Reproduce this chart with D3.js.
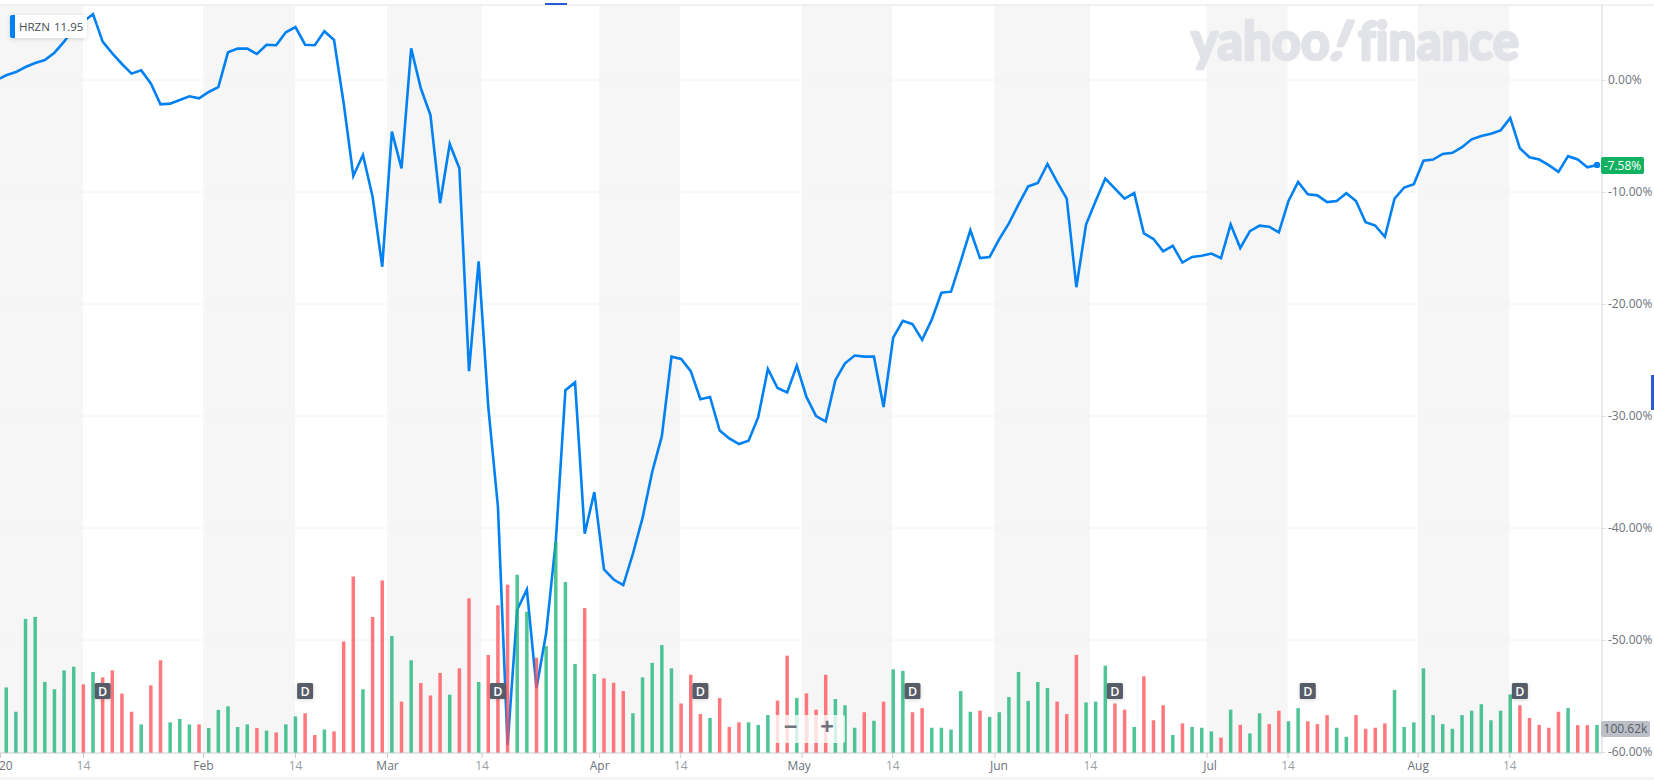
<!DOCTYPE html>
<html><head><meta charset="utf-8">
<style>
html,body{margin:0;padding:0;background:#fff;overflow:hidden}
svg{display:block}
text{font-family:"Open Sans",sans-serif;font-variant-ligatures:none}
</style>
<script src="https://cdn.jsdelivr.net/npm/d3@7"></script>
</head><body><div id="chart"></div>
<script>
// Percent change per trading session (session 0 sits just left of the plot edge)
const percentChange = [0.0,0.42,0.71,1.16,1.52,1.79,2.44,3.42,4.61,5.21,5.89,3.42,2.38,1.43,0.57,0.86,-0.30,-2.17,-2.11,-1.79,-1.46,-1.64,-1.07,-0.63,2.47,2.80,2.80,2.32,3.15,3.10,4.26,4.73,3.15,3.10,4.35,3.57,-2.08,-8.57,-6.70,-10.42,-16.67,-4.61,-7.89,2.83,-0.74,-3.13,-11.0,-5.71,-7.89,-26.0,-16.2,-29.2,-38.1,-59.4,-47.3,-45.5,-54.3,-49.4,-41.2,-27.7,-27.0,-40.5,-36.8,-43.7,-44.6,-45.1,-42.3,-39.1,-35.0,-31.8,-24.7,-24.9,-26.0,-28.5,-28.3,-31.3,-32.0,-32.5,-32.2,-30.1,-25.8,-27.5,-27.9,-25.5,-28.3,-30.0,-30.5,-26.8,-25.3,-24.6,-24.7,-24.7,-29.2,-23.0,-21.5,-21.8,-23.2,-21.4,-19.0,-18.9,-16.2,-13.4,-15.9,-15.8,-14.2,-12.8,-11.1,-9.5,-9.2,-7.5,-9.1,-10.6,-18.5,-12.9,-10.8,-8.8,-9.7,-10.6,-10.1,-13.7,-14.2,-15.3,-14.8,-16.3,-15.8,-15.7,-15.5,-15.9,-12.9,-15.0,-13.5,-13.0,-13.1,-13.6,-10.8,-9.1,-10.2,-10.3,-10.9,-10.8,-10.1,-10.8,-12.7,-13.0,-14.0,-10.6,-9.6,-9.3,-7.2,-7.1,-6.6,-6.5,-6.0,-5.3,-5.0,-4.8,-4.5,-3.4,-6.1,-6.9,-7.1,-7.6,-8.2,-6.8,-7.1,-7.8,-7.58];
// Volume in thousands for sessions 1..166
const volumeK = [246,152,511,519,267,239,312,326,258,306,285,312,222,152,103,254,351,111,124,103,103,89,159,173,93,103,89,79,72,103,134,146,62,83,76,424,675,239,519,660,445,191,351,263,215,302,218,320,591,267,372,564,644,682,539,361,406,808,654,337,553,298,281,264,232,146,285,341,410,320,184,295,143,128,205,93,111,111,101,139,195,369,205,223,160,295,201,177,90,150,117,191,316,310,150,166,90,90,83,232,152,156,132,150,209,306,194,267,244,191,143,372,188,191,330,184,160,93,289,119,177,62,107,93,90,76,52,160,101,68,146,104,156,115,166,115,104,139,90,55,139,86,90,107,236,93,111,320,139,104,86,139,156,181,119,156,219,177,128,101,90,152,166,100,100,100.62];
const volumeDirection = "GGGGGGGG R G RRRR G RR GGG R GGGGG R G R GG RR G RRR G RR G R G RRR G RR G RRR GG R GGGG R G RRR GGGGG RRR G RRR GGG RR G RRR GGG R G R GG RR GGGGG R GGGGGGG RRR GGG RR G RRR G R GGG R G R GG RR GG RRR GG RRRR GGGGGGGGGGGGG RRRRR G RR G".replace(/ /g,"").split("");
// Sessions carrying a dividend marker
const dividendSessions = [11,32,52,73,95,116,136,158];
// Time axis
const xTickLabels = ["20","14","Feb","14","Mar","14","Apr","14","May","14","Jun","14","Jul","14","Aug","14"];
const xTickSessions = [0.35,8.96,21.4,30.95,40.5,50.3,62.5,70.9,83.5,92.9,103.5,113.4,125.5,133.9,147.4,156.9];
// Value axis
const yTicks = [0,-10,-20,-30,-40,-50,-60];
const ticker = "HRZN", lastPrice = "11.95", lastChange = "-7.58%", lastVolume = "100.62k";

const W=1654,H=780,plotRight=1602,plotTop=5,plotBottom=753;
const x=d3.scaleLinear().domain([0,166]).range([-3.4,1597]);
const y=d3.scaleLinear().domain([0,-60]).range([80,752]);
const v=d3.scaleLinear().domain([0,1000]).range([751,492.6]);
const GREEN="#1db47a",RED="#ff5258";

const svg=d3.select("#chart").append("svg").attr("width",W).attr("height",H);
svg.append("rect").attr("x",0).attr("y",777).attr("width",W).attr("height",3).attr("fill","#f6f6f6");
svg.append("defs").append("clipPath").attr("id","plot").append("rect").attr("x",0).attr("y",plotTop).attr("width",plotRight).attr("height",plotBottom-plotTop);
const f=svg.append("defs").append("filter").attr("id","sh").attr("x","-20%").attr("y","-30%").attr("width","140%").attr("height","170%");
f.append("feDropShadow").attr("dx",0).attr("dy",1).attr("stdDeviation",2).attr("flood-color","#000").attr("flood-opacity",.15);

// alternating shading: month start to the 14th
const bandPairs=d3.pairs(xTickSessions).filter((p,i)=>i%2===0);
svg.append("g").selectAll("rect").data(bandPairs).join("rect")
 .attr("x",d=>x(d[0])).attr("y",plotTop).attr("width",d=>x(d[1])-x(d[0])).attr("height",plotBottom-plotTop).attr("fill","#f6f6f6");

// logo
const logo=svg.append("g").attr("fill","#e1e3e8").attr("stroke","#e1e3e8").attr("stroke-width",2.4).attr("stroke-linejoin","round").style("font-weight",900).style("font-size","54px");
logo.append("text").attr("x",1191).attr("y",60).attr("textLength",139).attr("lengthAdjust","spacingAndGlyphs").style("font-family","Lato").text("yahoo");
logo.append("text").attr("transform","translate(1327,60) skewX(-22)").style("font-family","Lato").text("!");
logo.append("text").attr("x",1358).attr("y",60).attr("textLength",161).attr("lengthAdjust","spacingAndGlyphs").style("font-family","Lato").text("finance");

// grid
svg.append("g").selectAll("line").data(yTicks.slice(0,-1)).join("line")
 .attr("x1",2).attr("x2",plotRight).attr("y1",d=>y(d)).attr("y2",d=>y(d)).attr("stroke","#f1f2f3").attr("stroke-width",1);

// frame
svg.append("line").attr("x1",0).attr("x2",W).attr("y1",plotTop).attr("y2",plotTop).attr("stroke","#e0e4e9");
svg.append("line").attr("x1",plotRight).attr("x2",plotRight).attr("y1",plotTop).attr("y2",plotBottom).attr("stroke","#e0e4e9").attr("stroke-width",1.5);

// price line
const chart=svg.append("g").attr("clip-path","url(#plot)");
chart.append("path").datum(percentChange).attr("fill","none").attr("stroke","#0081f2").attr("stroke-width",2.6).attr("stroke-linejoin","miter")
 .attr("d",d3.line().x((d,i)=>x(i)).y(d=>y(d)));

// volume bars (over the line, translucent)
svg.append("g").selectAll("rect").data(volumeK).join("rect")
 .attr("x",(d,i)=>x(i+1)-1.75).attr("width",3.5).attr("y",d=>v(d)).attr("height",d=>plotBottom-v(d))
 .attr("fill",(d,i)=>volumeDirection[i]==="G"?GREEN:RED).attr("fill-opacity",.78);

svg.append("circle").attr("cx",x(166)).attr("cy",y(percentChange[166])).attr("r",3.2).attr("fill","#0081f2");

// axes
const yAxis=d3.axisRight(y).tickValues(yTicks).tickFormat(d=>d.toFixed(2)+"%").tickSize(4).tickPadding(2);
const ya=svg.append("g").attr("transform",`translate(${plotRight},0)`).call(yAxis);
ya.select(".domain").remove();
ya.selectAll("line").attr("stroke","#dde0e4");
ya.selectAll("text").attr("fill","#6c727a").style("font-size","12px").style("font-family","Open Sans");

const xAxis=d3.axisBottom(x).tickValues(xTickSessions).tickFormat((d,i)=>xTickLabels[i]).tickSize(5).tickPadding(3);
const xa=svg.append("g").attr("transform",`translate(0,${plotBottom})`).call(xAxis);
xa.select(".domain").remove();
xa.selectAll("line").attr("stroke","#c9cdd2");
const labelNudge={May:-3,Jun:4,Jul:3,"20":-1.5};
xa.selectAll("text").attr("fill",(d,i)=>xTickLabels[i]==="14"?"#9a9fa6":"#6c727a").style("font-size","12px").style("font-family","Open Sans")
 .attr("text-anchor",(d,i)=>i===0?"start":"middle").attr("dx",(d,i)=>labelNudge[xTickLabels[i]]||0);
svg.append("line").attr("x1",0).attr("x2",plotRight).attr("y1",plotBottom).attr("y2",plotBottom).attr("stroke","#c9cdd2").attr("stroke-width",1);

// dividend badges
const dg=svg.append("g").selectAll("g").data(dividendSessions).join("g").attr("transform",d=>`translate(${x(d)},691)`);
dg.append("rect").attr("x",-8).attr("y",-8).attr("width",16).attr("height",16).attr("rx",1.5).attr("fill","#565c67").attr("filter","url(#sh)");
dg.append("text").attr("text-anchor","middle").attr("y",4.6).attr("fill","#fff").style("font-size","12.5px").style("font-weight",600).text("D");

// ticker tag
const tag=svg.append("g");
tag.append("rect").attr("x",10).attr("y",15).attr("width",77).attr("height",23).attr("rx",2).attr("fill","#fff").attr("filter","url(#sh)");
tag.append("path").attr("d","M15 15h-3a2 2 0 0 0-2 2v19a2 2 0 0 0 2 2h3z").attr("fill","#0081f2");
tag.append("text").attr("x",19).attr("y",31).attr("fill","#464e56").style("font-size","11.5px").text(ticker);
tag.append("text").attr("x",54).attr("y",31).attr("fill","#464e56").style("font-size","11.5px").text(lastPrice);

// last change tag
svg.append("rect").attr("x",1601).attr("y",157).attr("width",43).attr("height",17).attr("rx",2).attr("fill","#10b260");
svg.append("text").attr("x",1622.5).attr("y",169.6).attr("text-anchor","middle").attr("fill","#fff").style("font-size","12px").text(lastChange);

// last volume tag
svg.append("rect").attr("x",1601).attr("y",721).attr("width",49).attr("height",16).attr("rx",2).attr("fill","#bcbfc7");
svg.append("text").attr("x",1625.5).attr("y",733.2).attr("text-anchor","middle").attr("fill","#555c64").style("font-size","12px").text(lastVolume);

// zoom control
svg.append("rect").attr("x",772).attr("y",715).attr("width",73).attr("height",28).attr("rx",2).attr("fill","#fff").attr("fill-opacity",.78);
svg.append("line").attr("x1",808).attr("x2",808).attr("y1",719).attr("y2",738).attr("stroke","#e0e4e9");
svg.append("text").attr("x",790.5).attr("y",735).attr("text-anchor","middle").attr("fill","#6f747c").style("font-size","24px").style("font-weight",700).text("−");
svg.append("text").attr("x",827).attr("y",735).attr("text-anchor","middle").attr("fill","#6f747c").style("font-size","24px").style("font-weight",700).text("+");

// range handles
svg.append("rect").attr("x",545).attr("y",3).attr("width",22).attr("height",2).attr("fill","#2a5bd0");
svg.append("rect").attr("x",1651).attr("y",375).attr("width",3).attr("height",35).attr("fill","#2a5bd0");
</script></body></html>
